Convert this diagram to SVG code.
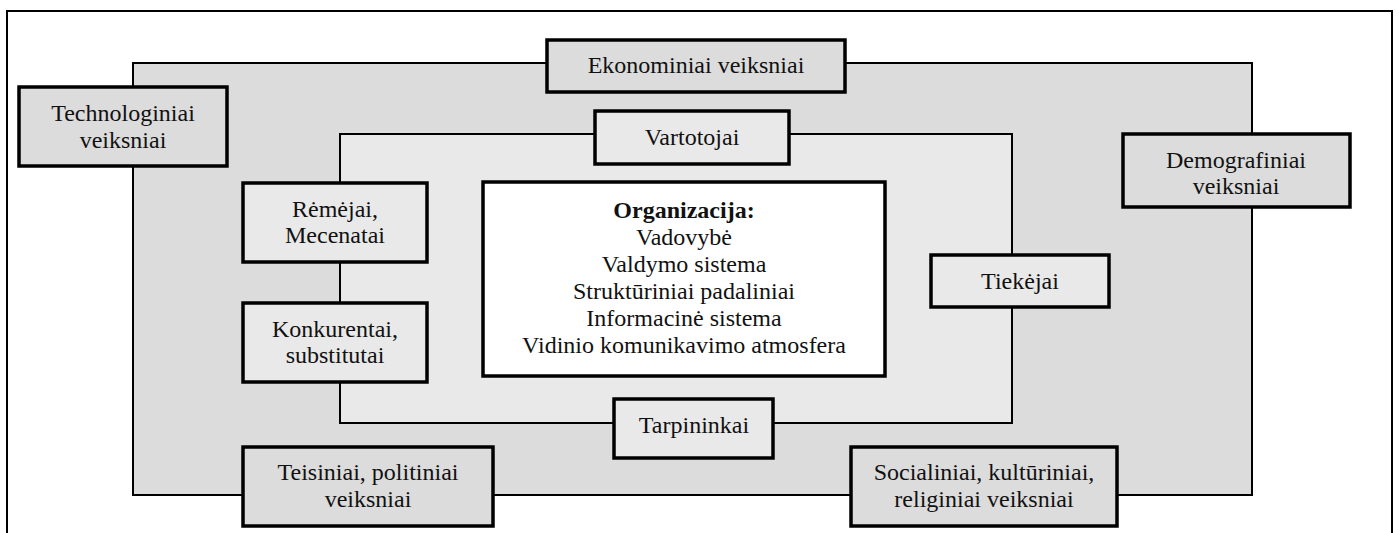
<svg xmlns="http://www.w3.org/2000/svg" width="1399" height="533" viewBox="0 0 1399 533">
  <style>
    .frame { fill: #ffffff; stroke: #000000; stroke-width: 2; }
    .zone-outer { fill: #dcdcdc; stroke: #000000; stroke-width: 2; }
    .zone-inner { fill: #e9e9e9; stroke: #000000; stroke-width: 2; }
    .box { stroke: #000000; stroke-width: 3.5; }
    .outer { fill: #dcdcdc; }
    .inner { fill: #e9e9e9; }
    .core { fill: #ffffff; }
    text { font-family: "Liberation Serif", "Times New Roman", serif; font-size: 24px; fill: #111111; text-anchor: middle; }
    .bold { font-weight: bold; }
  </style>

  <!-- page frame -->
  <rect class="frame" x="7" y="11" width="1385" height="540"/>

  <!-- environment zones -->
  <g id="zones">
    <rect class="zone-outer" x="133" y="63" width="1119" height="432"/>
    <rect class="zone-inner" x="340" y="134" width="672" height="289"/>
  </g>

  <!-- macro environment factors -->
  <g id="technologiniai">
    <rect class="box outer" x="19" y="87" width="208" height="79"/>
    <text x="123" y="121">Technologiniai</text>
    <text x="123" y="148">veiksniai</text>
  </g>
  <g id="ekonominiai">
    <rect class="box outer" x="547" y="40" width="298" height="52"/>
    <text x="696" y="73">Ekonominiai veiksniai</text>
  </g>
  <g id="demografiniai">
    <rect class="box outer" x="1123" y="134" width="227" height="73"/>
    <text x="1236" y="168">Demografiniai</text>
    <text x="1236" y="194">veiksniai</text>
  </g>
  <g id="teisiniai">
    <rect class="box outer" x="243" y="447" width="250" height="79"/>
    <text x="368" y="480">Teisiniai, politiniai</text>
    <text x="368" y="507">veiksniai</text>
  </g>
  <g id="socialiniai">
    <rect class="box outer" x="851" y="447" width="266" height="79"/>
    <text x="984" y="480">Socialiniai, kultūriniai,</text>
    <text x="984" y="507">religiniai veiksniai</text>
  </g>

  <!-- micro environment factors -->
  <g id="vartotojai">
    <rect class="box inner" x="595" y="111" width="194" height="53"/>
    <text x="692" y="145">Vartotojai</text>
  </g>
  <g id="remejai">
    <rect class="box inner" x="243" y="183" width="184" height="79"/>
    <text x="335" y="217">Rėmėjai,</text>
    <text x="335" y="243">Mecenatai</text>
  </g>
  <g id="konkurentai">
    <rect class="box inner" x="243" y="303" width="184" height="79"/>
    <text x="335" y="337">Konkurentai,</text>
    <text x="335" y="363">substitutai</text>
  </g>
  <g id="tiekejai">
    <rect class="box inner" x="931" y="255" width="178" height="52"/>
    <text x="1020" y="289">Tiekėjai</text>
  </g>
  <g id="tarpininkai">
    <rect class="box inner" x="614" y="399" width="159" height="59"/>
    <text x="694" y="433">Tarpininkai</text>
  </g>

  <!-- organisation core -->
  <g id="organizacija">
    <rect class="box core" x="483" y="182" width="402" height="194"/>
    <text class="bold" x="684" y="218">Organizacija:</text>
    <text x="684" y="245">Vadovybė</text>
    <text x="684" y="272">Valdymo sistema</text>
    <text x="684" y="299">Struktūriniai padaliniai</text>
    <text x="684" y="326">Informacinė sistema</text>
    <text x="684" y="353">Vidinio komunikavimo atmosfera</text>
  </g>

  <!-- zone edges act as the links between the boxes -->
  <g id="connectors"/>
</svg>
